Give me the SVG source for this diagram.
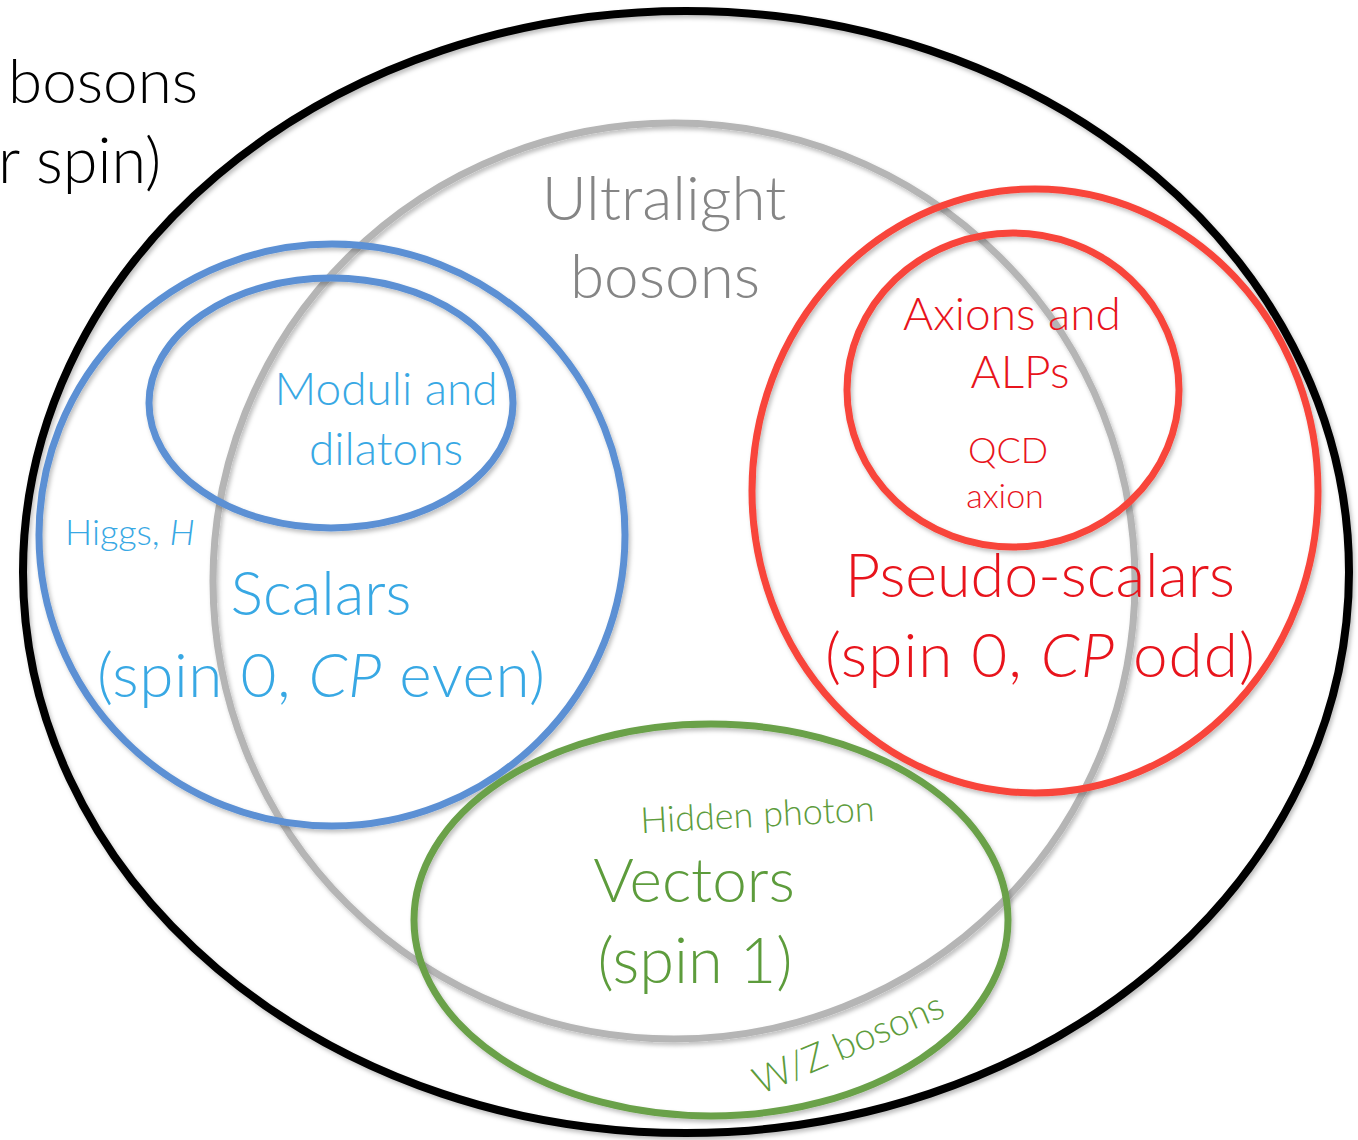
<svg xmlns="http://www.w3.org/2000/svg" width="1358" height="1140" viewBox="0 0 1358 1140">
<defs>
<filter id="sh" x="-10%" y="-10%" width="120%" height="120%">
<feDropShadow dx="2" dy="3" stdDeviation="2" flood-color="#000" flood-opacity="0.25"/>
</filter>
<style>
.e{fill:none;filter:url(#sh)}
.t{font-family:Lato,"Open Sans","Liberation Sans",sans-serif;font-weight:300}
.k{fill:#000}
.g{fill:#858585}
.b{fill:#38a8e4}
.r{fill:#e8141c}
.v{fill:#5d9c3c}
</style>
</defs>
<rect width="1358" height="1140" fill="#fff"/>
<g id="all-bosons">
<ellipse class="e" cx="686" cy="572" rx="663" ry="561" stroke="#000" stroke-width="8"/>
<text class="t k" x="8" y="103" font-size="62">bosons</text>
<text class="t k" x="-2" y="183" font-size="63">r spin)</text>
</g>
<g id="ultralight">
<ellipse class="e" cx="674" cy="581" rx="461" ry="458" stroke="#b5b5b5" stroke-width="7"/>
<text class="t g" x="664" y="220" font-size="62" text-anchor="middle">Ultralight</text>
<text class="t g" x="665" y="298" font-size="62" text-anchor="middle">bosons</text>
</g>
<g id="scalars">
<ellipse class="e" cx="332" cy="535" rx="293" ry="291" stroke="#5b90d4" stroke-width="7"/>
<text class="t b" x="65" y="545" font-size="36">Higgs, <tspan font-style="italic">H</tspan></text>
<text class="t b" x="321" y="615" font-size="61" text-anchor="middle">Scalars</text>
<text class="t b" x="97" y="697" font-size="62" textLength="448" lengthAdjust="spacing">(spin 0, <tspan font-style="italic">CP</tspan> even)</text>
</g>
<g id="moduli">
<ellipse class="e" cx="331" cy="403" rx="182" ry="125" stroke="#5b90d4" stroke-width="7"/>
<text class="t b" x="386" y="405" font-size="46" text-anchor="middle">Moduli and</text>
<text class="t b" x="386" y="465" font-size="46" text-anchor="middle">dilatons</text>
</g>
<g id="pseudo-scalars">
<ellipse class="e" cx="1035" cy="491" rx="283" ry="302" stroke="#f8453a" stroke-width="7"/>
<text class="t r" x="845" y="597" font-size="61" textLength="390" lengthAdjust="spacing">Pseudo-scalars</text>
<text class="t r" x="825" y="677" font-size="62" textLength="430" lengthAdjust="spacing">(spin 0, <tspan font-style="italic">CP</tspan> odd)</text>
</g>
<g id="axions">
<ellipse class="e" cx="1013" cy="390" rx="166" ry="157" stroke="#f8453a" stroke-width="7"/>
<text class="t r" x="1012" y="330" font-size="46" text-anchor="middle">Axions and</text>
<text class="t r" x="1020" y="388" font-size="46" text-anchor="middle">ALPs</text>
<text class="t r" x="1008" y="463" font-size="36" text-anchor="middle">QCD</text>
<text class="t r" x="1005" y="508" font-size="34" text-anchor="middle">axion</text>
</g>
<g id="vectors">
<ellipse class="e" cx="711" cy="920" rx="297" ry="196" stroke="#6aa14a" stroke-width="7"/>
<text class="t v" x="758" y="827" font-size="36" text-anchor="middle" transform="rotate(-3 758 827)">Hidden photon</text>
<text class="t v" x="694" y="902" font-size="62" text-anchor="middle">Vectors</text>
<text class="t v" x="695" y="983" font-size="63" text-anchor="middle">(spin 1)</text>
<text class="t v" x="760" y="1095" font-size="38" transform="rotate(-23 760 1095)">W/Z bosons</text>
</g>
<g id="connectors"/>
</svg>
